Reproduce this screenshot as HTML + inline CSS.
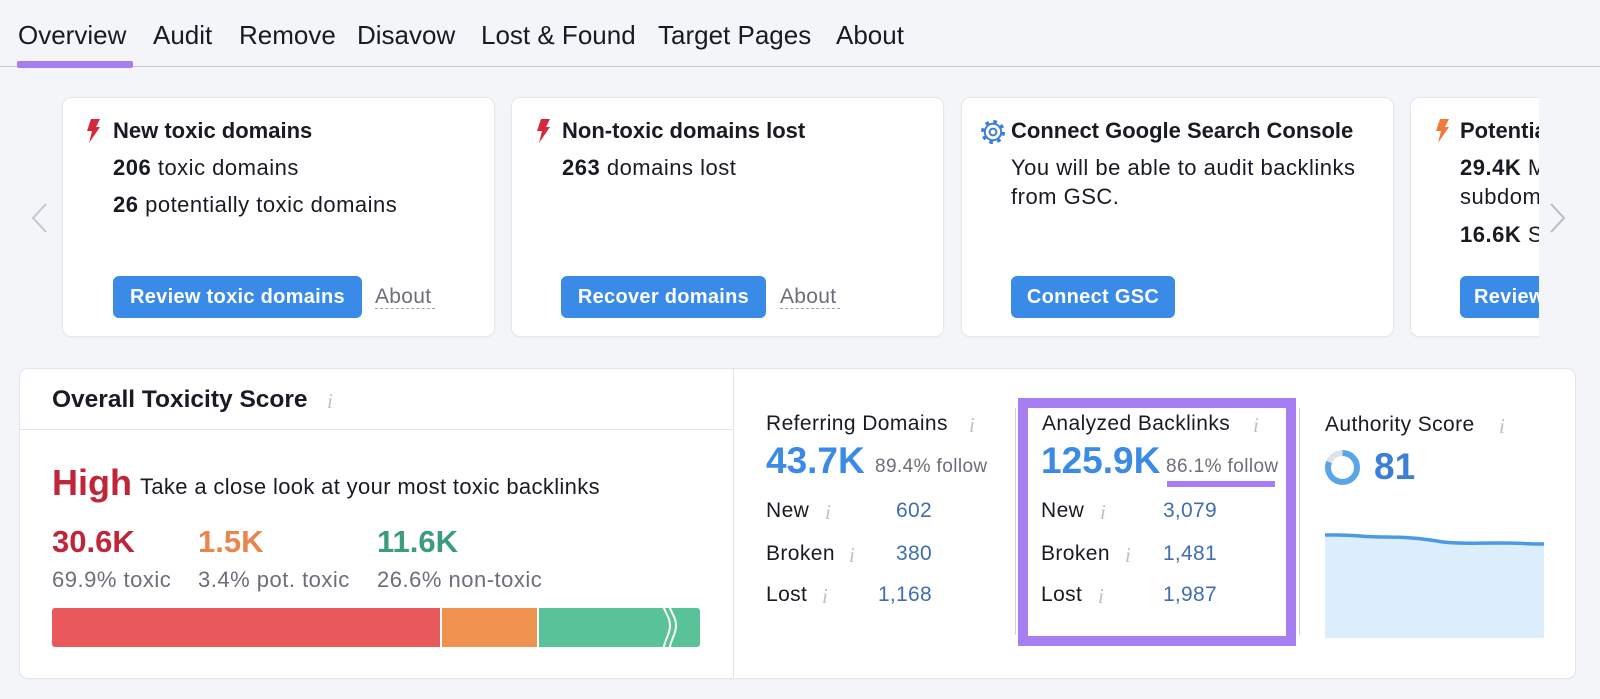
<!DOCTYPE html>
<html><head><meta charset="utf-8">
<style>
*{margin:0;padding:0;box-sizing:border-box}
html,body{width:1600px;height:699px;overflow:hidden;background:#f4f5f9;font-family:"Liberation Sans",Arial,sans-serif;color:#191b23}
.a{position:absolute;white-space:nowrap;line-height:1}
.card{position:absolute;top:98px;width:431px;height:238px;background:#fff;border-radius:8px;box-shadow:0 0 0 1px #e6e7ec,0 1px 3px rgba(0,0,0,.06)}
.t{font-size:22px;font-weight:bold}
.b{font-size:22px;letter-spacing:.5px}
.btn{position:absolute;top:276px;height:42px;line-height:42px;background:#3a8be8;color:#fff;border-radius:6px;font-size:20px;font-weight:bold;text-align:center;letter-spacing:.3px;white-space:nowrap;overflow:hidden}
.ab{font-size:21px;color:#6c6e79;letter-spacing:.3px}
.dash{position:absolute;height:0;border-top:1.5px dashed #a0a3ad}
.i{position:absolute;font-family:"Liberation Serif",serif;font-style:italic;font-size:21px;color:#bcbfc6;line-height:1}
.lbl{font-size:21px;letter-spacing:.4px}
.val{font-size:21px;color:#3f6fae;text-align:right;letter-spacing:.3px}
.gr{font-size:22px;color:#6c6e79;letter-spacing:.5px}
</style></head><body>

<!-- tabs -->
<div class="a" style="left:18px;top:22px;font-size:26px">Overview</div>
<div class="a" style="left:153px;top:22px;font-size:26px">Audit</div>
<div class="a" style="left:239px;top:22px;font-size:26px">Remove</div>
<div class="a" style="left:357px;top:22px;font-size:26px">Disavow</div>
<div class="a" style="left:481px;top:22px;font-size:26px">Lost &amp; Found</div>
<div class="a" style="left:658px;top:22px;font-size:26px">Target Pages</div>
<div class="a" style="left:836px;top:22px;font-size:26px">About</div>
<div style="position:absolute;left:0;top:66px;width:1600px;height:1px;background:#c9cbd3"></div>
<div style="position:absolute;left:17px;top:61px;width:116px;height:7px;background:#a77ef2;border-radius:2px"></div>

<!-- chevrons -->
<svg style="position:absolute;left:0;top:0" width="1600" height="699">
<polyline points="46,204 33,218 46,232" fill="none" stroke="#c4c7cf" stroke-width="2"/>
<polyline points="1551,204 1564,218 1551,232" fill="none" stroke="#b9bcc5" stroke-width="2"/>
</svg>

<!-- card 1 -->
<div class="card" style="left:63px"></div>
<svg style="position:absolute;left:85px;top:119px" width="16" height="25"><path d="M6 0 L15 0 L11 8 L15 8 L4 24 L7 12 L2 12 Z" fill="#d3293b"/></svg>
<div class="a t" style="left:113px;top:120.4px">New toxic domains</div>
<div class="a b" style="left:113px;top:157.1px"><b>206</b> toxic domains</div>
<div class="a b" style="left:113px;top:194.1px"><b>26</b> potentially toxic domains</div>
<div class="btn" style="left:113px;width:249px">Review toxic domains</div>
<div class="a ab" style="left:375px;top:286px">About</div>
<div class="dash" style="left:375px;top:308px;width:60px"></div>

<!-- card 2 -->
<div class="card" style="left:512px"></div>
<svg style="position:absolute;left:535px;top:119px" width="16" height="25"><path d="M6 0 L15 0 L11 8 L15 8 L4 24 L7 12 L2 12 Z" fill="#d3293b"/></svg>
<div class="a t" style="left:562px;top:120.4px">Non-toxic domains lost</div>
<div class="a b" style="left:562px;top:157.1px"><b>263</b> domains lost</div>
<div class="btn" style="left:561px;width:205px">Recover domains</div>
<div class="a ab" style="left:780px;top:286px">About</div>
<div class="dash" style="left:780px;top:308px;width:60px"></div>

<!-- card 3 -->
<div class="card" style="left:962px"></div>
<svg style="position:absolute;left:980px;top:119px" width="26" height="26">
<circle cx="13" cy="13" r="10.3" fill="none" stroke="#3a7fd9" stroke-width="3.4" stroke-dasharray="3.6 4.49"/>
<circle cx="13" cy="13" r="8.2" fill="none" stroke="#3a7fd9" stroke-width="2"/>
<circle cx="13" cy="13" r="3.4" fill="none" stroke="#3a7fd9" stroke-width="2"/>
</svg>
<div class="a t" style="left:1011px;top:120.4px">Connect Google Search Console</div>
<div class="a b" style="left:1011px;top:157.1px">You will be able to audit backlinks</div>
<div class="a b" style="left:1011px;top:186.4px">from GSC.</div>
<div class="btn" style="left:1011px;width:164px">Connect GSC</div>

<!-- card 4 (clipped) -->
<div style="position:absolute;left:1400px;top:90px;width:139px;height:260px;overflow:hidden">
  <div class="card" style="left:11px;top:8px"></div>
  <svg style="position:absolute;left:34px;top:29px" width="16" height="25"><path d="M6 0 L15 0 L11 8 L15 8 L4 24 L7 12 L2 12 Z" fill="#f07a3b"/></svg>
  <div class="a t" style="left:60px;top:30.4px">Potentially toxic</div>
  <div class="a b" style="left:60px;top:67.1px"><b>29.4K</b> Malicious</div>
  <div class="a b" style="left:60px;top:96.4px">subdomains</div>
  <div class="a b" style="left:60px;top:134.4px"><b>16.6K</b> Suspicious</div>
  <div class="btn" style="left:60px;top:186px;width:160px;text-align:left;padding-left:14px">Review domains</div>
</div>

<!-- bottom panel -->
<div style="position:absolute;left:20px;top:369px;width:1555px;height:309px;background:#fff;border-radius:8px;box-shadow:0 0 0 1px #e3e5ea,0 1px 3px rgba(0,0,0,.05)"></div>
<div style="position:absolute;left:733px;top:369px;width:1px;height:309px;background:#e3e5ea"></div>
<div style="position:absolute;left:20px;top:429px;width:713px;height:1px;background:#e3e5ea"></div>

<div class="a" style="left:52px;top:388.3px;font-size:24.5px;font-weight:bold">Overall Toxicity Score</div>
<div class="i" style="left:327px;top:391px">i</div>

<div class="a" style="left:52px;top:464.5px;font-size:36px;font-weight:bold;color:#c0263a">High</div>
<div class="a" style="left:140px;top:476.4px;font-size:22px;letter-spacing:.35px">Take a close look at your most toxic backlinks</div>

<div class="a" style="left:52px;top:525.8px;font-size:31px;font-weight:bold;color:#c0263a">30.6K</div>
<div class="a" style="left:198px;top:525.8px;font-size:31px;font-weight:bold;color:#e8864d">1.5K</div>
<div class="a" style="left:377px;top:525.8px;font-size:31px;font-weight:bold;color:#3d9c80">11.6K</div>

<div class="a gr" style="left:52px;top:569.4px">69.9% toxic</div>
<div class="a gr" style="left:198px;top:569.4px">3.4% pot. toxic</div>
<div class="a gr" style="left:377px;top:569.4px">26.6% non-toxic</div>

<div style="position:absolute;left:52px;top:608px;width:388px;height:39px;background:#e9585b;border-radius:3px 0 0 3px"></div>
<div style="position:absolute;left:442px;top:608px;width:95px;height:39px;background:#ef924f"></div>
<div style="position:absolute;left:539px;top:608px;width:161px;height:39px;background:#59c299;border-radius:0 3px 3px 0"></div>
<svg style="position:absolute;left:650px;top:598px" width="40" height="60">
<path d="M12 4 C 14 14, 20 18, 20 28 C 20 38, 12 44, 14 56" fill="none" stroke="#fff" stroke-width="2"/>
<path d="M18 4 C 20 14, 26 18, 26 28 C 26 38, 18 44, 20 56" fill="none" stroke="#fff" stroke-width="2"/>
</svg>

<!-- referring domains -->
<div class="a lbl" style="left:766px;top:413.2px">Referring Domains</div>
<div class="i" style="left:969px;top:415px">i</div>
<div class="a" style="left:766px;top:441.7px;font-size:37px;font-weight:bold;color:#3b8be6">43.7K</div>
<div class="a" style="left:875px;top:456.9px;font-size:19px;color:#6c6e79;letter-spacing:.4px">89.4% follow</div>
<div class="a lbl" style="left:766px;top:500.2px">New</div>
<div class="i" style="left:825px;top:502px">i</div>
<div class="a val" style="left:832px;width:100px;top:500.2px">602</div>
<div class="a lbl" style="left:766px;top:543.2px">Broken</div>
<div class="i" style="left:849px;top:545px">i</div>
<div class="a val" style="left:832px;width:100px;top:543.2px">380</div>
<div class="a lbl" style="left:766px;top:584.2px">Lost</div>
<div class="i" style="left:822px;top:586px">i</div>
<div class="a val" style="left:832px;width:100px;top:584.2px">1,168</div>

<div style="position:absolute;left:1015px;top:408px;width:1px;height:227px;background:#d0d2d8"></div>

<!-- analyzed backlinks -->
<div style="position:absolute;left:1018px;top:398px;width:278px;height:248px;border:10px solid #a77ef2"></div>
<div class="a lbl" style="left:1042px;top:413.2px">Analyzed Backlinks</div>
<div class="i" style="left:1253px;top:415px">i</div>
<div class="a" style="left:1041px;top:441.7px;font-size:37px;font-weight:bold;color:#3b8be6">125.9K</div>
<div class="a" style="left:1166px;top:456.9px;font-size:19px;color:#6c6e79;letter-spacing:.4px">86.1% follow</div>
<div style="position:absolute;left:1167px;top:481px;width:108px;height:6px;background:#a77ef2"></div>
<div class="a lbl" style="left:1041px;top:500.2px">New</div>
<div class="i" style="left:1100px;top:502px">i</div>
<div class="a val" style="left:1117px;width:100px;top:500.2px">3,079</div>
<div class="a lbl" style="left:1041px;top:543.2px">Broken</div>
<div class="i" style="left:1125px;top:545px">i</div>
<div class="a val" style="left:1117px;width:100px;top:543.2px">1,481</div>
<div class="a lbl" style="left:1041px;top:584.2px">Lost</div>
<div class="i" style="left:1098px;top:586px">i</div>
<div class="a val" style="left:1117px;width:100px;top:584.2px">1,987</div>

<div style="position:absolute;left:1299px;top:408px;width:1px;height:227px;background:#d0d2d8"></div>

<!-- authority score -->
<div class="a lbl" style="left:1325px;top:414.2px">Authority Score</div>
<div class="i" style="left:1499px;top:416px">i</div>
<svg style="position:absolute;left:1324px;top:449px" width="37" height="37">
<circle cx="18.5" cy="18.5" r="14.5" fill="none" stroke="#dfe3e8" stroke-width="6"/>
<circle cx="18.5" cy="18.5" r="14.5" fill="none" stroke="#5aa5ea" stroke-width="6" stroke-dasharray="73.8 100" transform="rotate(-90 18.5 18.5)"/>
</svg>
<div class="a" style="left:1374px;top:447.7px;font-size:37px;font-weight:bold;color:#3b7fd6">81</div>
<svg style="position:absolute;left:1325px;top:525px" width="220" height="115">
<path d="M0 10 L12 10 C 30 10, 40 12, 60 12 C 85 12, 100 14, 118 17 C 135 19, 150 18, 175 18 C 195 18, 205 19, 219 19 L219 113 L0 113 Z" fill="#dcedfb"/>
<path d="M0 10 L12 10 C 30 10, 40 12, 60 12 C 85 12, 100 14, 118 17 C 135 19, 150 18, 175 18 C 195 18, 205 19, 219 19" fill="none" stroke="#4b9be4" stroke-width="3.5"/>
</svg>

</body></html>
